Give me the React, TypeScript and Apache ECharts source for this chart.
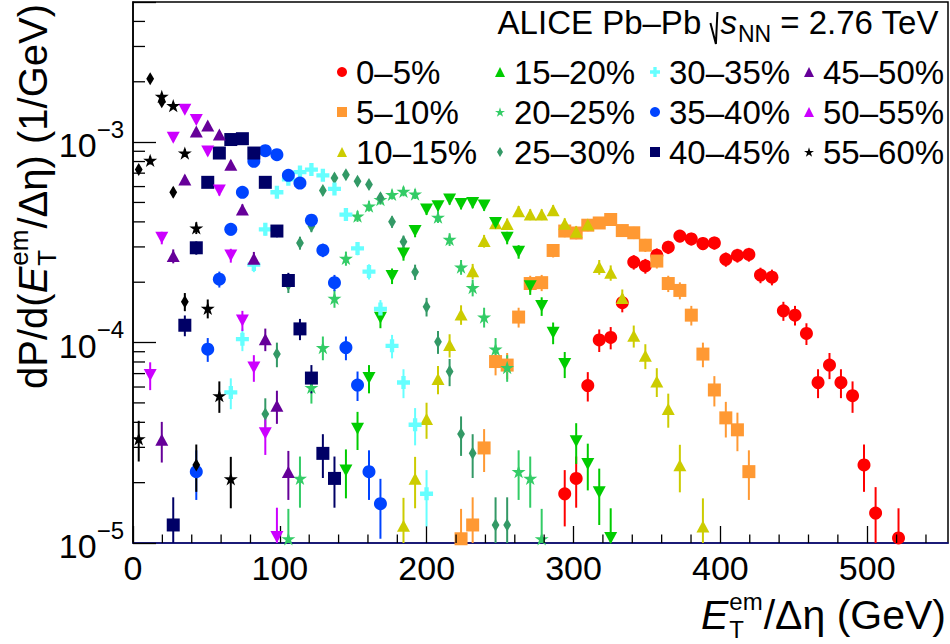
import React, { useEffect, useRef } from 'react';
import * as echarts from 'echarts';

const FONT = '"Liberation Sans", Arial, Helvetica, sans-serif';

// bin centres of the E_T^em/Δη histogram (GeV)
const binCenters = [3.9, 11.7, 19.6, 27.4, 35.3, 43.1, 50.9, 58.8, 66.6, 74.5, 82.3, 90.1, 98.0, 105.8, 113.7, 121.5, 129.3, 137.2, 145.0, 152.9, 160.7, 168.5, 176.4, 184.2, 192.1, 199.9, 207.7, 215.6, 223.4, 231.3, 239.1, 246.9, 254.8, 262.6, 270.5, 278.3, 286.1, 294.0, 301.8, 309.7, 317.5, 325.3, 333.2, 341.0, 348.9, 356.7, 364.5, 372.4, 380.2, 388.1, 395.9, 403.7, 411.6, 419.4, 427.3, 435.1, 442.9, 450.8, 458.6, 466.5, 474.3, 482.1, 490.0, 497.8, 505.7, 513.5, 521.3];

const centralityLabels = ['0–5%', '5–10%', '10–15%', '15–20%', '20–25%', '25–30%', '30–35%', '35–40%', '40–45%', '45–50%', '50–55%', '55–60%'];

const start0to5 = 37;
const values0to5 = [1.76e-5, 2.1e-5, 6.1e-5, 1.03e-4, 1.06e-4, 1.58e-4, 2.52e-4, 2.41e-4, 2.73e-4, 2.99e-4, 3.40e-4, 3.29e-4, 3.12e-4, 3.14e-4, 2.60e-4, 2.72e-4, 2.75e-4, 2.17e-4, 2.12e-4, 1.44e-4, 1.37e-4, 1.11e-4, 6.32e-5, 7.72e-5, 6.32e-5, 5.43e-5, 2.45e-5, 1.41e-5, null, 1.06e-5];
const errors0to5 = [0.55e-5, 0.60e-5, 1.02e-5, 1.33e-5, 1.35e-5, 1.65e-5, 2.08e-5, 2.04e-5, 2.17e-5, 2.27e-5, 2.42e-5, 2.38e-5, 2.32e-5, 2.33e-5, 2.12e-5, 2.16e-5, 2.18e-5, 1.93e-5, 1.91e-5, 1.57e-5, 1.54e-5, 1.38e-5, 1.04e-5, 1.15e-5, 1.04e-5, 0.97e-5, 0.65e-5, 0.49e-5, null, 0.43e-5];

const start5to10 = 28;
const values5to10 = [1.05e-5, 1.23e-5, 2.98e-5, 8.04e-5, 7.72e-5, 1.34e-4, 1.97e-4, 1.99e-4, 2.88e-4, 3.60e-4, 3.52e-4, 3.85e-4, 3.95e-4, 4.11e-4, 3.62e-4, 3.53e-4, 3.06e-4, 2.55e-4, 1.97e-4, 1.82e-4, 1.37e-4, 8.76e-5, 5.80e-5, 4.21e-5, 3.67e-5, 2.27e-5];
const errors5to10 = [0.43e-5, 0.46e-5, 0.72e-5, 1.18e-5, 1.15e-5, 1.52e-5, 1.84e-5, 1.85e-5, 2.23e-5, 2.49e-5, 2.46e-5, 2.58e-5, 2.61e-5, 2.66e-5, 2.50e-5, 2.47e-5, 2.30e-5, 2.10e-5, 1.84e-5, 1.77e-5, 1.54e-5, 1.23e-5, 1.00e-5, 0.85e-5, 0.80e-5, 0.63e-5];

const start10to15 = 23;
const values10to15 = [1.22e-5, 2.09e-5, 4.16e-5, 6.58e-5, 9.71e-5, 1.38e-4, 2.27e-4, 3.21e-4, 3.94e-4, 3.90e-4, 4.52e-4, 4.35e-4, 4.35e-4, 4.57e-4, 3.91e-4, 3.57e-4, 3.88e-4, 2.38e-4, 2.23e-4, 1.67e-4, 1.08e-4, 8.59e-5, 6.40e-5, 4.66e-5, 2.44e-5, null, 1.21e-5];
const errors10to15 = [0.46e-5, 0.60e-5, 0.85e-5, 1.06e-5, 1.29e-5, 1.54e-5, 1.98e-5, 2.35e-5, 2.61e-5, 2.59e-5, 2.79e-5, 2.74e-5, 2.74e-5, 2.81e-5, 2.60e-5, 2.48e-5, 2.58e-5, 2.02e-5, 1.96e-5, 1.70e-5, 1.36e-5, 1.22e-5, 1.05e-5, 0.90e-5, 0.65e-5, null, 0.46e-5];

const start15to20 = 18;
const values15to20 = [2.30e-5, 3.71e-5, 6.65e-5, 1.33e-4, 2.15e-4, 2.78e-4, 3.60e-4, 4.61e-4, 4.79e-4, 5.17e-4, 4.91e-4, 4.97e-4, 4.83e-4, 3.95e-4, 3.33e-4, 2.84e-4, 1.91e-4, 1.52e-4, 1.12e-4, 7.81e-5, 3.22e-5, 2.48e-5, 1.79e-5, 1.06e-5];
const errors15to20 = [0.63e-5, 0.80e-5, 1.07e-5, 1.51e-5, 1.92e-5, 2.19e-5, 2.49e-5, 2.82e-5, 2.87e-5, 2.98e-5, 2.91e-5, 2.93e-5, 2.88e-5, 2.61e-5, 2.39e-5, 2.21e-5, 1.81e-5, 1.62e-5, 1.39e-5, 1.16e-5, 0.74e-5, 0.65e-5, 0.56e-5, 0.43e-5];

const start20to25 = 13;
const values20to25 = [1.05e-5, 2.10e-5, 5.97e-5, 9.44e-5, 1.66e-4, 2.63e-4, 4.27e-4, 4.79e-4, 5.17e-4, 5.48e-4, 5.68e-4, 5.51e-4, null, 4.22e-4, 3.27e-4, 2.38e-4, 1.88e-4, 1.34e-4, 9.27e-5, 7.51e-5, 2.27e-5, 2.10e-5, 1.05e-5];
const errors20to25 = [0.43e-5, 0.60e-5, 1.01e-5, 1.28e-5, 1.69e-5, 2.13e-5, 2.71e-5, 2.87e-5, 2.98e-5, 3.07e-5, 3.13e-5, 3.08e-5, null, 2.70e-5, 2.37e-5, 2.02e-5, 1.80e-5, 1.52e-5, 1.26e-5, 1.14e-5, 0.63e-5, 0.60e-5, 0.43e-5];

const start25to30 = 11;
const values25to30 = [4.40e-5, 8.76e-5, 1.95e-4, 3.14e-4, 3.81e-4, 5.73e-4, 6.62e-4, 6.88e-4, 6.37e-4, 6.14e-4, 5.27e-4, 4.00e-4, 3.18e-4, 2.25e-4, 1.51e-4, 1.01e-4, 7.17e-5, 3.50e-5, 2.80e-5, null, 1.23e-5, 1.23e-5];
const errors25to30 = [0.87e-5, 1.23e-5, 1.83e-5, 2.33e-5, 2.56e-5, 3.14e-5, 3.38e-5, 3.44e-5, 3.31e-5, 3.25e-5, 3.01e-5, 2.62e-5, 2.34e-5, 1.97e-5, 1.61e-5, 1.32e-5, 1.11e-5, 0.78e-5, 0.69e-5, null, 0.46e-5, 0.46e-5];

const start30to35 = 8;
const values30to35 = [5.64e-5, 1.04e-4, 2.45e-4, 3.67e-4, 5.62e-4, 6.52e-4, 7.09e-4, 7.29e-4, 6.83e-4, 5.84e-4, 4.35e-4, 2.95e-4, 2.26e-4, 1.47e-4, 9.63e-5, 6.32e-5, 3.89e-5, 1.76e-5];
const errors30to35 = [0.99e-5, 1.34e-5, 2.05e-5, 2.51e-5, 3.11e-5, 3.35e-5, 3.49e-5, 3.54e-5, 3.43e-5, 3.17e-5, 2.74e-5, 2.25e-5, 1.97e-5, 1.59e-5, 1.29e-5, 1.04e-5, 0.82e-5, 0.55e-5];

const start35to40 = 5;
const values35to40 = [2.27e-5, 9.27e-5, 2.07e-4, 3.67e-4, 5.62e-4, 8.02e-4, 9.06e-4, 8.66e-4, 6.83e-4, 6.25e-4, 4.08e-4, 2.89e-4, 1.99e-4, 9.44e-5, 6.14e-5, 2.27e-5, 1.57e-5];
const errors35to40 = [0.63e-5, 1.26e-5, 1.89e-5, 2.51e-5, 3.11e-5, 3.72e-5, 3.95e-5, 3.86e-5, 3.43e-5, 3.28e-5, 2.65e-5, 2.23e-5, 1.85e-5, 1.28e-5, 1.03e-5, 0.63e-5, 0.52e-5];

const start40to45 = 3;
const values40to45 = [1.23e-5, 1.22e-4, 2.97e-4, 6.30e-4, 8.82e-4, 1.03e-3, 1.04e-3, 8.82e-4, 6.30e-4, 3.60e-4, 2.04e-4, 1.17e-4, 6.65e-5, 2.80e-5, 2.10e-5];
const errors40to45 = [0.46e-5, 1.45e-5, 2.26e-5, 3.29e-5, 3.90e-5, 4.21e-5, 4.23e-5, 3.90e-5, 3.29e-5, 2.49e-5, 1.87e-5, 1.42e-5, 1.07e-5, 0.69e-5, 0.60e-5];

const start45to50 = 2;
const values45to50 = [3.27e-5, 2.70e-4, 6.50e-4, 1.13e-3, 1.21e-3, 1.09e-3, 7.72e-4, 4.61e-4, 2.62e-4, 1.04e-4, 4.84e-5, 2.26e-5];
const errors45to50 = [0.75e-5, 2.16e-5, 3.35e-5, 4.41e-5, 4.56e-5, 4.33e-5, 3.65e-5, 2.82e-5, 2.12e-5, 1.34e-5, 0.91e-5, 0.62e-5];

const start50to55 = 1;
const values50to55 = [6.88e-5, 3.33e-4, 1.05e-3, 1.45e-3, 1.29e-3, 8.99e-4, 5.73e-4, 2.72e-4, 1.29e-4, 7.51e-5, 3.53e-5, 1.07e-5];
const errors50to55 = [1.09e-5, 2.39e-5, 4.25e-5, 5.00e-5, 4.71e-5, 3.94e-5, 3.14e-5, 2.16e-5, 1.49e-5, 1.14e-5, 0.78e-5, 0.43e-5];

const start55to60 = 0;
const values55to60 = [3.31e-5, 8.11e-4, 1.69e-3, 1.52e-3, 8.82e-4, 3.73e-4, 1.48e-4, 5.43e-5, 2.09e-5];
const errors55to60 = [0.76e-5, 3.74e-5, 5.40e-5, 5.12e-5, 3.90e-5, 2.53e-5, 1.60e-5, 0.97e-5, 0.60e-5];

// black diamonds drawn without a legend entry
const startExtra = 0;
const valuesExtra = [7.31e-4, 2.07e-3, 1.59e-3, 5.62e-4, 1.60e-4, 2.45e-5];
const errorsExtra = [3.55e-5, 5.97e-5, 5.23e-5, 3.11e-5, 1.66e-5, 0.65e-5];

const yDecades = [1e-5, 1e-4, 1e-3];
const yTickExponents = ['−5', '−4', '−3'];
const yMinorMantissas = [2, 3, 4, 5, 6, 7, 8, 9];

const STAR = 'path://M0,-10L2.245,-3.09L9.511,-3.09L3.633,1.18L5.878,8.09L0,3.82L-5.878,8.09L-3.633,1.18L-9.511,-3.09L-2.245,-3.09Z';
const DIAMOND = 'path://M0,-10L6,0L0,10L-6,0Z';
const CROSS = 'path://M-2,-6L2,-6L2,-2L6,-2L6,2L2,2L2,6L-2,6L-2,2L-6,2L-6,-2L-2,-2Z';

const styles: any[] = [
  { color: '#ff0000', symbol: 'circle', size: 13 },
  { color: '#ff9933', symbol: 'rect', size: 13 },
  { color: '#cccc00', symbol: 'triangle', size: [13, 12] },
  { color: '#00cc00', symbol: 'triangle', size: [13, 12], rotate: 180 },
  { color: '#33cc66', symbol: STAR, size: 14 },
  { color: '#339966', symbol: DIAMOND, size: 13 },
  { color: '#66ffff', symbol: CROSS, size: 13 },
  { color: '#0044ff', symbol: 'circle', size: 13 },
  { color: '#000066', symbol: 'rect', size: 13 },
  { color: '#660099', symbol: 'triangle', size: [13, 12] },
  { color: '#cc00ff', symbol: 'triangle', size: [13, 12], rotate: 180 },
  { color: '#000000', symbol: STAR, size: 14 },
];

const groups: any[] = [
  [start0to5, values0to5, errors0to5],
  [start5to10, values5to10, errors5to10],
  [start10to15, values10to15, errors10to15],
  [start15to20, values15to20, errors15to20],
  [start20to25, values20to25, errors20to25],
  [start25to30, values25to30, errors25to30],
  [start30to35, values30to35, errors30to35],
  [start35to40, values35to40, errors35to40],
  [start40to45, values40to45, errors40to45],
  [start45to50, values45to50, errors45to50],
  [start50to55, values50to55, errors50to55],
  [start55to60, values55to60, errors55to60],
];

function toData(start: number, values: (number | null)[], errors: (number | null)[]) {
  const out: number[][] = [];
  values.forEach((v, k) => {
    if (v != null) out.push([binCenters[start + k], v, errors[k] as number]);
  });
  return out;
}

function buildOption() {
  const ctx = document.createElement('canvas').getContext('2d')!;
  const mw = (t: string, size: number, italic = false) => {
    ctx.font = `${italic ? 'italic ' : ''}${size}px ${FONT}`;
    return ctx.measureText(t).width;
  };
  const T = (text: string, x: number, base: number, size: number, italic = false, lh?: number) => ({
    type: 'text',
    silent: true,
    style: {
      text, x, y: base - 0.35 * size, fontSize: size, fontFamily: FONT,
      fontStyle: italic ? 'italic' : 'normal', fill: '#000', align: 'left', verticalAlign: 'middle',
      lineHeight: lh || Math.round(size * 1.05),
    },
  });

  const series: any[] = [];
  const addSeries = (name: string, st: any, data: number[][]) => {
    series.push({
      type: 'custom', name: name + ' err', silent: true, clip: true,
      data, encode: { x: 0, y: 1 },
      renderItem: (params: any, api: any) => {
        const x = api.value(0), v = api.value(1), e = api.value(2);
        const a = api.coord([x, v + e]);
        const b = api.coord([x, Math.max(v - e, 1e-8)]);
        return { type: 'line', shape: { x1: a[0], y1: a[1], x2: b[0], y2: b[1] }, style: { stroke: st.color, lineWidth: 2 } };
      },
    });
    series.push({
      type: 'scatter', name, silent: true, clip: true,
      data: data.map((d) => [d[0], d[1]]),
      symbol: st.symbol, symbolSize: st.size, symbolRotate: st.rotate || 0, symbolKeepAspect: true,
      itemStyle: { color: st.color, opacity: 1 },
      emphasis: { disabled: true },
    });
  };
  groups.forEach((g, i) => {
    if (i === 11) addSeries('extra', { color: '#000000', symbol: DIAMOND, size: 13 }, toData(startExtra, valuesExtra, errorsExtra));
    addSeries(centralityLabels[i], styles[i], toData(g[0], g[1], g[2]));
  });

  // minor ticks
  const xMinor: number[][] = [];
  for (let v = 20; v < 555; v += 20) if (v % 100 !== 0) xMinor.push([v, 1e-5]);
  const yMinor: number[][] = [];
  yDecades.forEach((d) => yMinorMantissas.forEach((m) => { const v = m * d; if (v < 4.95e-3) yMinor.push([0, v]); }));
  series.push({
    type: 'custom', silent: true, data: xMinor, encode: { x: 0, y: 1 }, z: 5,
    renderItem: (p: any, api: any) => {
      const c = api.coord([api.value(0), 1e-5]);
      return { type: 'line', shape: { x1: c[0], y1: c[1], x2: c[0], y2: c[1] - 8.5 }, style: { stroke: '#000', lineWidth: 1.3 } };
    },
  });
  series.push({
    type: 'custom', silent: true, data: yMinor, encode: { x: 0, y: 1 }, z: 5,
    renderItem: (p: any, api: any) => {
      const c = api.coord([0, api.value(1)]);
      return { type: 'line', shape: { x1: c[0], y1: c[1], x2: c[0] + 12, y2: c[1] }, style: { stroke: '#000', lineWidth: 1.3 } };
    },
  });
  // y tick labels 10^n
  series.push({
    type: 'custom', silent: true, data: yDecades.map((v) => [0, v]), encode: { x: 0, y: 1 }, z: 5,
    renderItem: (p: any, api: any) => {
      const c = api.coord([0, api.value(1)]);
      const exp = yTickExponents[p.dataIndex];
      const supW = mw(exp, 24);
      return {
        type: 'group',
        children: [
          { type: 'text', style: { text: '10', x: c[0] - 9 - supW, y: c[1] + 3, align: 'right', verticalAlign: 'middle', fontSize: 34, fontFamily: FONT, fill: '#000', lineHeight: 30 } },
          { type: 'text', style: { text: exp, x: c[0] - 9, y: c[1] - 13, align: 'right', verticalAlign: 'middle', fontSize: 24, fontFamily: FONT, fill: '#000', lineHeight: 20 } },
        ],
      };
    },
  });

  // axis titles and header
  const graphics: any[] = [];
  {
    const M = 41, S = 24;
    const rest = '/Δη (GeV)';
    const wRest = mw(rest, M), wE = mw('E', M, true), wSc = Math.max(mw('em', S), mw('T', S));
    const right = 946, B = 629;
    const xRest = right - wRest, xSc = xRest - wSc - 1, xE = xSc - wE - 1;
    graphics.push(
      T('E', xE, B, M, true, 38),
      T('em', xSc, B - 0.47 * M, S, false, 19),
      T('T', xSc, B + 0.22 * M, S, false, 19),
      T(rest, xRest, B, M, false, 38),
    );
  }
  {
    const M = 40, S = 26;
    const p1 = 'dP/d(', p2 = '/Δη) (1/GeV)';
    const w1 = mw(p1, M), wE = mw('E', M, true), wSc = Math.max(mw('em', S), mw('T', S)), w2 = mw(p2, M);
    const W = w1 + wE + wSc + 2 + w2;
    const xs = -W;
    graphics.push({
      type: 'group', x: 47, y: 4, rotation: Math.PI / 2, silent: true,
      children: [
        T(p1, xs, 0, M, false, 38), T('E', xs + w1, 0, M, true, 38),
        T('em', xs + w1 + wE + 1, -0.47 * M, S, false, 20), T('T', xs + w1 + wE + 1, 0.23 * M, S, false, 20),
        T(p2, xs + w1 + wE + wSc + 2, 0, M, false, 38),
      ],
    });
  }
  {
    const H = 33, HS = 23, B = 34, R = 10;
    const a = 'ALICE Pb–Pb', b = ' = 2.76 TeV';
    const wa = mw(a, H), wsp = mw(' ', H), ws = mw('s', H, true), wNN = mw('NN', HS), wb = mw(b, H);
    const total = wa + wsp + R + ws + wNN + wb;
    const x0 = 938 - total;
    const xr = x0 + wa + wsp;
    graphics.push(T(a, x0, B, H, false, 30));
    graphics.push({ type: 'polyline', silent: true, shape: { points: [[xr, B - 11], [xr + 5.5, B + 10], [xr + 7, B - 22]] }, style: { stroke: '#000', lineWidth: 2, fill: null } });
    graphics.push(T('s', xr + R, B, H, true, 26), T('NN', xr + R + ws + 1, B + 8, HS, false, 20), T(b, xr + R + ws + wNN + 1, B, H, false, 30));
  }

  const legendLeft = [337, 495, 650, 804];
  const legends = legendLeft.map((left, c) => ({
    orient: 'vertical', left, top: 52, padding: 0, itemGap: 0, itemWidth: 10, itemHeight: 10,
    selectedMode: false,
    data: centralityLabels.slice(c * 3, c * 3 + 3),
    textStyle: { fontSize: 33, fontFamily: FONT, color: '#000', lineHeight: 40, padding: [0, 0, 0, 4] },
  }));

  return {
    animation: false,
    backgroundColor: '#fff',
    grid: { left: 133, right: 2, top: 2, bottom: 101, show: true, borderColor: '#000', borderWidth: 1.5, backgroundColor: 'transparent' },
    legend: legends,
    xAxis: {
      type: 'value', min: 0, max: 555, interval: 100,
      axisLine: { show: true, lineStyle: { color: '#10108a', width: 1.5 } },
      axisTick: { show: true, inside: true, length: 17, lineStyle: { color: '#000', width: 1.3 } },
      minorTick: { show: false },
      splitLine: { show: false },
      axisLabel: { show: true, margin: 8, fontSize: 34, fontFamily: FONT, color: '#000', showMaxLabel: false, lineHeight: 34 },
    },
    yAxis: {
      type: 'log', logBase: 10, min: 1e-5, max: 5e-3,
      axisLine: { show: true, lineStyle: { color: '#000', width: 1.5 } },
      axisTick: { show: true, inside: true, length: 23, lineStyle: { color: '#000', width: 1.3 } },
      splitLine: { show: false },
      axisLabel: { show: false },
    },
    graphic: { elements: graphics },
    series,
  };
}

export default function App() {
  const ref = useRef<HTMLDivElement>(null);
  useEffect(() => {
    document.body.style.margin = '0';
    const chart = echarts.init(ref.current!, null, { renderer: 'svg' });
    chart.setOption(buildOption() as any);
    return () => chart.dispose();
  }, []);
  return <div ref={ref} style={{ width: 950, height: 644 }} />;
}
